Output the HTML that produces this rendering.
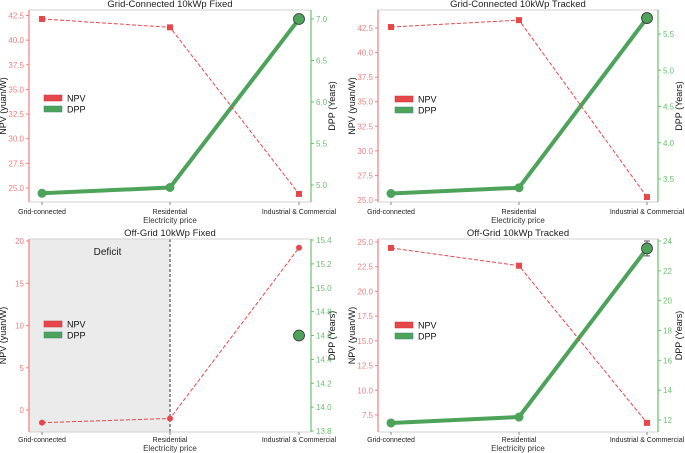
<!DOCTYPE html>
<html><head><meta charset="utf-8"><style>
body{margin:0;background:#fff;}
svg{display:block;font-family:"Liberation Sans","DejaVu Sans",sans-serif;}
</style></head><body>
<svg id="c" width="685" height="453" viewBox="0 0 685 453"></svg>
<script>
const categories = ["Grid-connected","Residential","Industrial & Commercial"];
const titles = ["Grid-Connected 10kWp Fixed","Grid-Connected 10kWp Tracked","Off-Grid 10kWp Fixed","Off-Grid 10kWp Tracked"];
const npvP1 = [42.15, 41.3, 24.4];
const dppP1 = [4.9, 4.97, 7.0];
const npvP2 = [42.6, 43.3, 25.3];
const dppP2 = [3.3, 3.38, 5.72];
const npvP3 = [-1.5, -1.0, 19.2];
const dppP3 = [null, null, 14.6];
const npvP4 = [24.4, 22.6, 6.7];
const dppP4 = [11.8, 12.2, 23.5];
const errP1 = 0.05, errP2 = 0.05, errP3 = 0.03, errP4 = 0.5;
const npvTicksP1 = [25.0,27.5,30.0,32.5,35.0,37.5,40.0,42.5];
const dppTicksP1 = [5.0,5.5,6.0,6.5,7.0];
const npvTicksP2 = [25.0,27.5,30.0,32.5,35.0,37.5,40.0,42.5];
const dppTicksP2 = [3.5,4.0,4.5,5.0,5.5];
const npvTicksP3 = [0,5,10,15,20];
const dppTicksP3 = [13.8,14.0,14.2,14.4,14.6,14.8,15.0,15.2,15.4];
const npvTicksP4 = [7.5,10.0,12.5,15.0,17.5,20.0,22.5,25.0];
const dppTicksP4 = [12,14,16,18,20,22,24];

const NS="http://www.w3.org/2000/svg";
const svg=document.getElementById('c');
function mk(tag,attrs,parent,text){const e=document.createElementNS(NS,tag);for(const k in attrs)e.setAttribute(k,attrs[k]);if(text!==undefined)e.textContent=text;(parent||svg).appendChild(e);return e;}
function lin(d0,d1,r0,r1){return v=>r0+(v-d0)*(r1-r0)/(d1-d0);}

const panels=[
 {L:29,R:311,T:10,B:202,lo:12,cx:[42,170,299],ly:[25,188,42.5,15.5],ry:[5,185,7,19],npv:npvP1,dpp:dppP1,err:errP1,nt:npvTicksP1,dt:dppTicksP1,dec:1,ddec:1,title:titles[0],lg:[44,98],marker:'sq'},
 {L:378,R:658,T:10,B:202,lo:12,cx:[391,519,647],ly:[25,200,42.5,28],ry:[3.5,179,5.5,34],npv:npvP2,dpp:dppP2,err:errP2,nt:npvTicksP2,dt:dppTicksP2,dec:1,ddec:1,title:titles[1],lg:[395,99],marker:'sq'},
 {L:29,R:311,T:239,B:432,lo:10,cx:[42,170,299],ly:[0,410,20,241],ry:[13.8,431,15.4,240],npv:npvP3,dpp:dppP3,err:errP3,nt:npvTicksP3,dt:dppTicksP3,dec:0,ddec:1,title:titles[2],lg:[44,324],marker:'ci',deficit:true},
 {L:378,R:658,T:239,B:432,lo:10,cx:[391,519,647],ly:[7.5,415,25,242],ry:[12,420,24,241],npv:npvP4,dpp:dppP4,err:errP4,nt:npvTicksP4,dt:dppTicksP4,dec:1,ddec:0,title:titles[3],lg:[395,325],marker:'sq'}
];
const RED='#e8474a', GREEN='#4ea35a', TRED='#f08080', TGREEN='#6cc06f';

panels.forEach((p,pi)=>{
 const g=mk('g',{});
 
 
 const yL=lin(p.ly[0],p.ly[2],p.ly[1],p.ly[3]);
 const yR=lin(p.ry[0],p.ry[2],p.ry[1],p.ry[3]);
 const xC=i=>p.cx[i];
 if(p.deficit){
  const r=mk('rect',{x:p.L,y:p.T,width:xC(1)-p.L,height:p.B-p.T,fill:'#ebebeb'},g);
  
  
  mk('line',{x1:xC(1),x2:xC(1),y1:p.T,y2:p.B,stroke:'#333','stroke-width':1,'stroke-dasharray':'3,2'},g);
  const t=mk('text',{x:(p.L+xC(1))/2+8,y:p.T+16,'font-size':10,'text-anchor':'middle',fill:'#222'},g,'Deficit');
  
  
 }
 mk('line',{x1:p.L,x2:p.R,y1:p.T,y2:p.T,stroke:'#d0d0d0'},g);
 mk('line',{x1:p.L,x2:p.R,y1:p.B,y2:p.B,stroke:'#d0d0d0'},g);
 mk('line',{x1:p.L,x2:p.L,y1:p.T,y2:p.B,stroke:TRED,'stroke-width':1.2},g);
 mk('line',{x1:p.R,x2:p.R,y1:p.T,y2:p.B,stroke:TGREEN,'stroke-width':1.2},g);
 const tt=mk('text',{x:(p.L+p.R)/2,y:p.T-3,'font-size':9.5,'text-anchor':'middle',fill:'#222'},g,p.title);
 
 
 p.nt.forEach(v=>{const y=yL(v);
  mk('line',{x1:p.L-3,x2:p.L,y1:y,y2:y,stroke:TRED},g);
  const t=mk('text',{x:p.L-5,y:y+3,'font-size':8,'text-anchor':'end',fill:TRED},g,v.toFixed(p.dec));
  
  });
 p.dt.forEach(v=>{const y=yR(v);
  mk('line',{x1:p.R,x2:p.R+3,y1:y,y2:y,stroke:TGREEN},g);
  const t=mk('text',{x:p.R+5,y:y+3,'font-size':8,fill:TGREEN},g,v.toFixed(p.ddec));
  
  });
 categories.forEach((c,i)=>{
  mk('line',{x1:xC(i),x2:xC(i),y1:p.B,y2:p.B+3,stroke:'#888'},g);
  const t=mk('text',{x:xC(i),y:p.B+p.lo,'font-size':7,'text-anchor':'middle',fill:'#222'},g,c);
  
  });
 const xl=mk('text',{x:(p.L+p.R)/2,y:p.B+p.lo+9,'font-size':8,'text-anchor':'middle',fill:'#333'},g,'Electricity price');
 
 
 const ym=(p.T+p.B)/2, lx=p.L-23, rx=p.R+24;
 const yl=mk('text',{x:lx,y:ym,'font-size':9,'text-anchor':'middle',fill:'#111',transform:`rotate(-90 ${lx} ${ym})`},g,'NPV (yuan/W)');
 
 
 const yr=mk('text',{x:rx,y:ym,'font-size':9,'text-anchor':'middle',fill:'#111',transform:`rotate(-90 ${rx} ${ym})`},g,'DPP (Years)');
 
 
 const dpts=[];p.dpp.forEach((v,i)=>{if(v!==null)dpts.push([xC(i),yR(v)]);});
 if(dpts.length>1){const pl=mk('polyline',{points:dpts.map(q=>q.join(',')).join(' '),fill:'none',stroke:GREEN,'stroke-width':4,'stroke-linejoin':'round'},g);
  
  }
 const npts=p.npv.map((v,i)=>[xC(i),yL(v)]);
 const nl=mk('polyline',{points:npts.map(q=>q.join(',')).join(' '),fill:'none',stroke:RED,'stroke-width':1,'stroke-dasharray':'4,2'},g);
 
 
 npts.forEach(q=>{let m;
  if(p.marker==='sq')m=mk('rect',{x:q[0]-3,y:q[1]-3,width:6,height:6,fill:RED},g);
  else m=mk('circle',{cx:q[0],cy:q[1],r:3,fill:RED},g);
  
  });
 p.dpp.forEach((v,i)=>{if(v===null)return;const x=xC(i),y=yR(v);
  const last=i===2;
  if(last){const y1=yR(v+p.err),y2=yR(v-p.err);
   mk('line',{x1:x,x2:x,y1:y1,y2:y2,stroke:'#555'},g);
   mk('line',{x1:x-3,x2:x+3,y1:y1,y2:y1,stroke:'#555'},g);
   mk('line',{x1:x-3,x2:x+3,y1:y2,y2:y2,stroke:'#555'},g);}
  const c=mk('circle',{cx:x,cy:y,r:last?5.5:4.5,fill:GREEN,stroke:last?'#333':GREEN,'stroke-width':last?0.8:0},g);
  
  });
 const [lgx,lgy]=p.lg;
 const l1=mk('rect',{x:lgx,y:lgy-3,width:18,height:6,fill:RED,stroke:'#b33',"stroke-width":0.5},g);
 
 
 const lt1=mk('text',{x:lgx+23,y:lgy+3.5,'font-size':9,fill:'#111'},g,'NPV');
 
 
 const l2=mk('rect',{x:lgx,y:lgy+8,width:18,height:6,fill:GREEN,stroke:'#387',"stroke-width":0.5},g);
 
 
 const lt2=mk('text',{x:lgx+23,y:lgy+14.5,'font-size':9,fill:'#111'},g,'DPP');
 
 
});
</script>
</body></html>
